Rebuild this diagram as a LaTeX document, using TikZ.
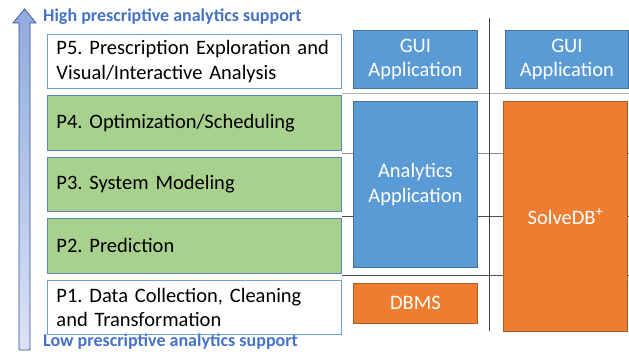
\documentclass[tikz,border=0pt]{standalone}
\usepackage{fontspec}
\setmainfont{Carlito}
\usetikzlibrary{positioning}
\frenchspacing
\definecolor{layergreen}{HTML}{A9D18E}
\definecolor{layerline}{HTML}{6F9FD8}
\definecolor{greenline}{HTML}{5A86B8}
\definecolor{modblue}{HTML}{5B9BD5}
\definecolor{modblueline}{HTML}{41719C}
\definecolor{modorange}{HTML}{ED7D31}
\definecolor{modorangeline}{HTML}{AE5A21}
\definecolor{supportblue}{HTML}{4472C4}
\definecolor{arrowtop}{HTML}{8FAADC}
\definecolor{arrowbot}{HTML}{DCE2F6}
\definecolor{arrowline}{HTML}{2F528F}
\tikzstyle{layer}=[draw=layerline,line width=0.9pt,text width=276pt,minimum height=54.5pt,inner xsep=9pt,inner ysep=0pt,align=left,font=\fontsize{20.5}{24.5}\selectfont]
\tikzstyle{greenlayer}=[layer,fill=layergreen,draw=greenline]
\tikzstyle{module}=[draw=modblueline,fill=modblue,text=white,anchor=north west,align=center,inner sep=0pt,line width=0.8pt,font=\fontsize{20.5}{24.5}\selectfont]
\tikzstyle{dbmodule}=[module,fill=modorange,draw=modorangeline]
\tikzstyle{support}=[anchor=west,inner sep=0pt,text=supportblue,font=\fontsize{18}{20}\selectfont\bfseries]
\tikzstyle{sep}=[line width=0.9pt]

\begin{document}
\begin{tikzpicture}[x=1pt,y=-1pt]
\useasboundingbox (0,0) rectangle (629,352);
% level arrow
\shade[top color=arrowtop,bottom color=arrowbot,draw=arrowline,line width=0.7pt]
	(19,350) -- (19,23) -- (13,23) -- (24.5,9) -- (36,23) -- (30,23) -- (30,350) -- cycle;
\node [support] (high) at (43,17) {High prescriptive analytics support};
\node [support] (low) at (43,342) {Low prescriptive analytics support};
% separators
\coordinate (s1a) at (342,93);  \coordinate (s1b) at (629,93);
\coordinate (s2a) at (342,153); \coordinate (s2b) at (629,153);
\coordinate (s3a) at (342,216); \coordinate (s3b) at (629,216);
\coordinate (s4a) at (342,275); \coordinate (s4b) at (629,275);
\coordinate (vtop) at (489,18); \coordinate (vbot) at (489,331);
\draw [sep,black!30] (s1a) -- (s1b);
\draw [sep,black!45] (s2a) -- (s2b);
\draw [sep,black!70] (s3a) -- (s3b);
\draw [sep,black!70] (s4a) -- (s4b);
\draw [sep,black!75] (vtop) -- (vbot);
% layers
\node [layer,anchor=north west] (p5) at (47,34) {P5. Prescription Exploration and\\Visual/Interactive Analysis};
\node [greenlayer] (p4) [below=6pt of p5] {P4. Optimization/Scheduling};
\node [greenlayer] (p3) [below=6pt of p4] {P3. System Modeling};
\node [greenlayer] (p2) [below=6pt of p3] {P2. Prediction};
\node [layer] (p1) [below=6pt of p2] {P1. Data Collection, Cleaning\\and Transformation};
% left stack
\node [module,minimum width=124pt,minimum height=58pt] (gui) at (353,30) {GUI\\Application};
\node [module,minimum width=124pt,minimum height=166pt] (analytics) at (353,101) {Analytics\\Application};
\node [dbmodule,minimum width=124pt,minimum height=40pt] (dbms) at (353,283) {DBMS};
% right stack
\node [module,minimum width=123pt,minimum height=58pt] (solvegui) at (505,30) {GUI\\Application};
\node [dbmodule,minimum width=124pt,minimum height=230pt] (solvedb) at (503,101) {SolveDB\textsuperscript{+}};
\end{tikzpicture}
\end{document}
